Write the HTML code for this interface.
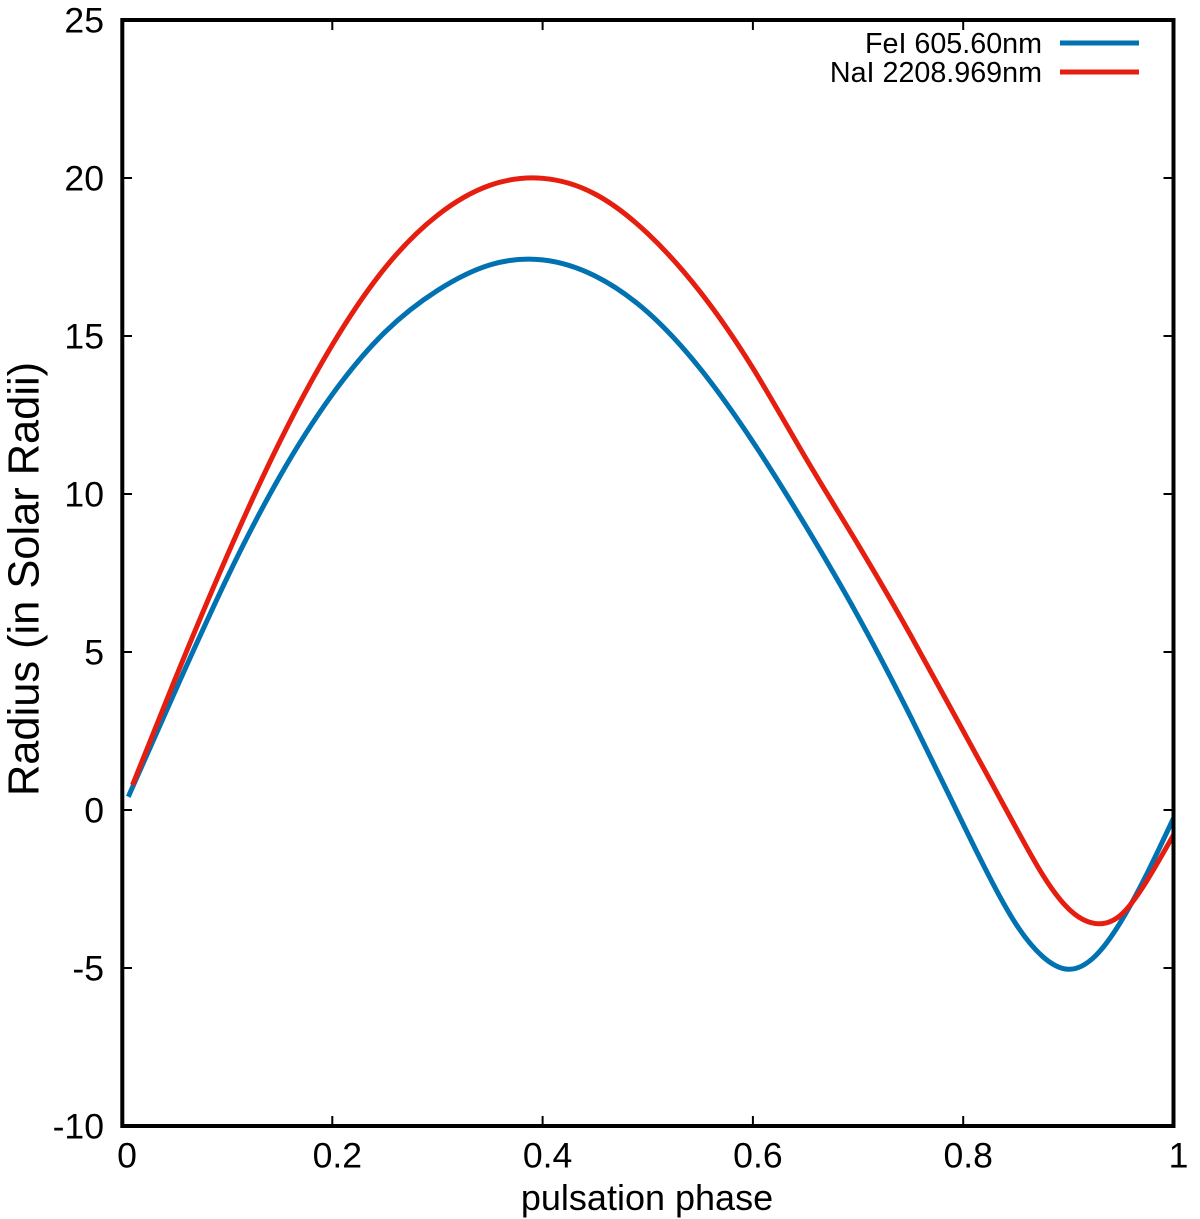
<!DOCTYPE html>
<html lang="en">
<head>
<meta charset="utf-8">
<title>Radius vs pulsation phase</title>
<style>
html,body{margin:0;padding:0;background:#fff;}
svg{display:block;}
text{font-family:"Liberation Sans",Arial,Helvetica,sans-serif;fill:#000;}
</style>
</head>
<body>
<svg id="chart" xmlns="http://www.w3.org/2000/svg" width="1200" height="1219" viewBox="0 0 1200 1219">
  <defs>
    <clipPath id="plot-clip"><rect x="100" y="20" width="1073.5" height="1106"></rect></clipPath>
  </defs>
  <rect x="0" y="0" width="1200" height="1219" fill="#fff"></rect>
  <g id="curves" clip-path="url(#plot-clip)"></g>
  <g id="ticks"></g>
  <rect x="122.3" y="20" width="1051.2" height="1106" fill="none" stroke="#000" stroke-width="4"></rect>
  <g id="tick-labels"></g>
  <text x="647" y="1210" text-anchor="middle" font-size="36">pulsation phase</text>
  <text transform="translate(38.5,579) rotate(-90)" text-anchor="middle" font-size="43.4">Radius (in Solar Radii)</text>
  <g>
    <text x="1042" y="53" text-anchor="end" font-size="28.7">FeI 605.60nm</text>
    <line x1="1060" y1="43" x2="1139" y2="43" stroke="#0072b2" stroke-width="5"></line>
    <text x="1042" y="82" text-anchor="end" font-size="28.7">NaI 2208.969nm</text>
    <line x1="1060" y1="72" x2="1139" y2="72" stroke="#e51e10" stroke-width="5"></line>
  </g>
</svg>
<script>
const feiPhase = [0.006,0.05,0.1,0.15,0.2,0.25,0.3,0.35,0.4,0.45,0.5,0.55,0.6,0.65,0.7,0.75,0.8,0.825,0.85,0.875,0.9,0.925,0.95,0.975,1];
const feiRadius = [0.42,3.72,7.35,10.55,13.15,15.12,16.44,17.25,17.41,16.9,15.75,13.96,11.65,9.0,6.13,2.95,-0.45,-2.12,-3.6,-4.62,-5.04,-4.64,-3.53,-2.0,-0.26];
const naiPhase = [0.01,0.05,0.1,0.15,0.2,0.25,0.3,0.35,0.4,0.45,0.5,0.55,0.6,0.65,0.7,0.75,0.8,0.825,0.85,0.875,0.9,0.925,0.95,0.975,1];
const naiRadius = [0.79,4.1,8.05,11.65,14.72,17.15,18.82,19.77,19.99,19.49,18.24,16.39,13.98,11.15,8.4,5.53,2.5,0.98,-0.55,-2.02,-3.12,-3.59,-3.32,-2.22,-0.79];
const xTickValues = [0,0.2,0.4,0.6,0.8,1];
const xTickLabels = ["0","0.2","0.4","0.6","0.8","1"];
const yTickValues = [-10,-5,0,5,10,15,20,25];
const yTickLabels = ["-10","-5","0","5","10","15","20","25"];

const SVG_NS = "http://www.w3.org/2000/svg";
const xScale = function (v) { return 122 + 1051.5 * v; };
const yScale = function (v) { return 810 - 31.6 * v; };

function curvePath(xs, ys) {
  const px = xs.map(xScale);
  const py = ys.map(yScale);
  const n = px.length;
  const h = [];
  for (let i = 0; i < n - 1; i++) {
    h.push(px[i + 1] - px[i]);
  }
  /* natural cubic spline: tridiagonal solve for second derivatives */
  const c = new Array(n).fill(0);
  const r = new Array(n).fill(0);
  const k = new Array(n).fill(0);
  for (let i = 1; i < n - 1; i++) {
    const a = h[i - 1];
    const b = 2 * (h[i - 1] + h[i]);
    const d = 6 * ((py[i + 1] - py[i]) / h[i] - (py[i] - py[i - 1]) / h[i - 1]);
    const den = b - a * c[i - 1];
    c[i] = h[i] / den;
    r[i] = (d - a * r[i - 1]) / den;
  }
  for (let i = n - 2; i > 0; i--) {
    k[i] = r[i] - c[i] * k[i + 1];
  }
  let d = "M" + px[0].toFixed(2) + " " + py[0].toFixed(2);
  for (let i = 0; i < n - 1; i++) {
    const s = (py[i + 1] - py[i]) / h[i];
    const m0 = s - h[i] * (2 * k[i] + k[i + 1]) / 6;
    const m1 = s + h[i] * (k[i] + 2 * k[i + 1]) / 6;
    d += "C" + (px[i] + h[i] / 3).toFixed(2) + " " + (py[i] + m0 * h[i] / 3).toFixed(2) + " " +
      (px[i + 1] - h[i] / 3).toFixed(2) + " " + (py[i + 1] - m1 * h[i] / 3).toFixed(2) + " " +
      px[i + 1].toFixed(2) + " " + py[i + 1].toFixed(2);
  }
  return d;
}

const curves = document.getElementById("curves");

const feiCurve = document.createElementNS(SVG_NS, "path");


feiCurve.setAttribute("d", curvePath(feiPhase, feiRadius));
feiCurve.setAttribute("fill", "none");
feiCurve.setAttribute("stroke", "#0072b2");
feiCurve.setAttribute("stroke-width", "5");
curves.appendChild(feiCurve);

const naiCurve = document.createElementNS(SVG_NS, "path");


naiCurve.setAttribute("d", curvePath(naiPhase, naiRadius));
naiCurve.setAttribute("fill", "none");
naiCurve.setAttribute("stroke", "#e51e10");
naiCurve.setAttribute("stroke-width", "5");
curves.appendChild(naiCurve);

const ticks = document.getElementById("ticks");
const tickLabels = document.getElementById("tick-labels");

function addTick(x1, y1, x2, y2, name) {
  const t = document.createElementNS(SVG_NS, "line");
  
  
  t.setAttribute("x1", x1);
  t.setAttribute("y1", y1);
  t.setAttribute("x2", x2);
  t.setAttribute("y2", y2);
  t.setAttribute("stroke", "#000");
  t.setAttribute("stroke-width", "2");
  ticks.appendChild(t);
}

function addLabel(x, y, anchor, str, name) {
  const t = document.createElementNS(SVG_NS, "text");
  
  
  t.setAttribute("x", x);
  t.setAttribute("y", y);
  t.setAttribute("text-anchor", anchor);
  t.setAttribute("font-size", "35.6");
  t.textContent = str;
  tickLabels.appendChild(t);
}

xTickValues.forEach(function (v, i) {
  const x = xScale(v);
  addTick(x, 1126, x, 1116, "x-tick-bottom");
  addTick(x, 20, x, 30, "x-tick-top");
  addLabel(x + 5, 1167.7, "middle", xTickLabels[i], "x-tick-label");
});

yTickValues.forEach(function (v, i) {
  const y = yScale(v);
  addTick(122, y, 132, y, "y-tick-left");
  addTick(1173.5, y, 1163.5, y, "y-tick-right");
  addLabel(104, y + 12.5, "end", yTickLabels[i], "y-tick-label");
});
</script>
</body>
</html>
